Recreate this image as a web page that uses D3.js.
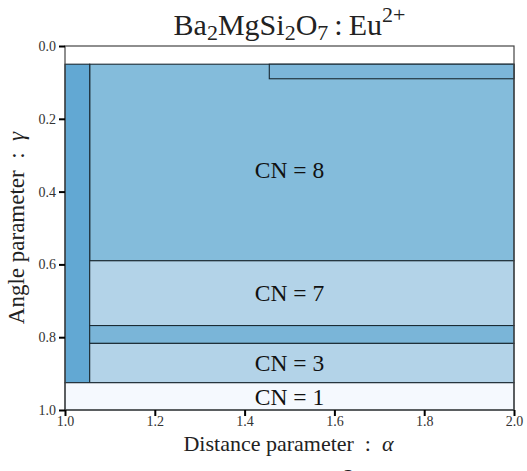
<!DOCTYPE html>
<html>
<head>
<meta charset="utf-8">
<script src="https://cdn.jsdelivr.net/npm/d3@7"></script>
<style>
  body { margin: 0; background: #fff; }
  svg, svg text { font-family: "Liberation Serif", "DejaVu Serif", serif !important; }
</style>
</head>
<body>
<div id="chart"></div>
<script>
var width = 527, height = 471;
var margin = {top: 46, right: 13, bottom: 61, left: 65};

// regions of the coordination map
var regionNames = ["CN = 8 (top strip)", "CN = 8", "left column", "CN = 7", "band", "CN = 3", "CN = 1"];
var alphaStart = [1.455, 1.055, 1.0, 1.055, 1.055, 1.055, 1.0];
var alphaEnd   = [2.0,   2.0,   1.055, 2.0,  2.0,   2.0,   2.0];
var gammaStart = [0.05,  0.05,  0.05, 0.59,  0.768, 0.817, 0.925];
var gammaEnd   = [0.09,  0.59,  0.925, 0.768, 0.817, 0.925, 1.0];
var regionFill = ["#7cb6d9", "#84bcdb", "#62a8d3", "#b3d3e8", "#7ab5d8", "#b3d3e8", "#f5f9fe"];

// labels
var labelText  = ["CN = 8", "CN = 7", "CN = 3", "CN = 1"];
var labelGamma = [0.34, 0.679, 0.871, 0.9625];

var xTicks = [1.0, 1.2, 1.4, 1.6, 1.8, 2.0];
var yTicks = [0.0, 0.2, 0.4, 0.6, 0.8, 1.0];

var serif = "Liberation Serif, DejaVu Serif, serif";

var svg = d3.select("#chart")
  .append("svg")
    .attr("width", width)
    .attr("height", height)
    .attr("font-family", serif);

var x = d3.scaleLinear().domain([1.0, 2.0]).range([margin.left, width - margin.right]);
var y = d3.scaleLinear().domain([0.0, 1.0]).range([margin.top, height - margin.bottom]);

var regions = regionNames.map(function(n, i) {
  return {name: n, x0: alphaStart[i], x1: alphaEnd[i], y0: gammaStart[i], y1: gammaEnd[i], fill: regionFill[i]};
});

// background of the axes
svg.append("rect")
  .attr("x", x(1.0)).attr("y", y(0.0))
  .attr("width", x(2.0) - x(1.0)).attr("height", y(1.0) - y(0.0))
  .attr("fill", "#fff");

// draw big regions first, the small strip on top
var order = [1, 2, 3, 4, 5, 6, 0];
svg.append("g").selectAll("rect")
  .data(order.map(function(i) { return regions[i]; }))
  .enter().append("rect")
    .attr("x", function(d) { return x(d.x0); })
    .attr("y", function(d) { return y(d.y0); })
    .attr("width", function(d) { return x(d.x1) - x(d.x0); })
    .attr("height", function(d) { return y(d.y1) - y(d.y0); })
    .attr("fill", function(d) { return d.fill; })
    .attr("stroke", "#1a2a33")
    .attr("stroke-width", 1.1);

svg.append("g").selectAll("text")
  .data(labelText)
  .enter().append("text")
    .attr("x", (x(1.0) + x(2.0)) / 2)
    .attr("y", function(d, i) { return y(labelGamma[i]); })
    .attr("dy", "0.35em")
    .attr("text-anchor", "middle")
    .attr("font-size", 23.5)
    .attr("fill", "#111")
    .text(function(d) { return d; });

// frame
svg.append("rect")
  .attr("x", x(1.0)).attr("y", y(0.0))
  .attr("width", x(2.0) - x(1.0)).attr("height", y(1.0) - y(0.0))
  .attr("fill", "none")
  .attr("stroke", "#444")
  .attr("stroke-width", 1.2);

// axes
var xAxis = svg.append("g")
  .attr("transform", "translate(0," + y(1.0) + ")")
  .call(d3.axisBottom(x).tickValues(xTicks).tickSize(6).tickPadding(0).tickFormat(d3.format(".1f")));
var yAxis = svg.append("g")
  .attr("transform", "translate(" + x(1.0) + ",0)")
  .call(d3.axisLeft(y).tickValues(yTicks).tickSize(6).tickPadding(3).tickFormat(d3.format(".1f")));

[xAxis, yAxis].forEach(function(a) {
  a.attr("font-family", serif);
  a.select(".domain").remove();
  a.selectAll(".tick line").attr("stroke", "#000").attr("stroke-width", 2);
  a.selectAll(".tick text")
    .attr("font-size", 14)
    .attr("fill", "#333");
});

// title
var title = svg.append("text")
  .attr("x", (x(1.0) + x(2.0)) / 2)
  .attr("y", 35)
  .attr("text-anchor", "middle")
  .attr("font-size", 30)
  .attr("fill", "#222");
title.append("tspan").text("Ba");
title.append("tspan").attr("font-size", 22).attr("dy", 5).text("2");
title.append("tspan").attr("dy", -5).text("MgSi");
title.append("tspan").attr("font-size", 22).attr("dy", 5).text("2");
title.append("tspan").attr("dy", -5).text("O");
title.append("tspan").attr("font-size", 22).attr("dy", 5).text("7");
title.append("tspan").attr("dy", -5).text("\u2009:\u2009Eu");
title.append("tspan").attr("font-size", 22).attr("dy", -13).text("2+");

// axis labels
svg.append("text")
  .attr("x", (x(1.0) + x(2.0)) / 2 - 1)
  .attr("y", 451)
  .attr("text-anchor", "middle")
  .attr("font-size", 22)
  .attr("fill", "#222")
  .html("Distance parameter &#160;: &#160;<tspan font-style='italic'>α</tspan>");

svg.append("text")
  .attr("transform", "translate(24," + ((y(0.0) + y(1.0)) / 2) + ") rotate(-90)")
  .attr("text-anchor", "middle")
  .attr("font-size", 23)
  .attr("fill", "#222")
  .html("Angle parameter &#160;: &#160;<tspan font-style='italic'>γ</tspan>");

// superscript of the next panel's title, cut at the bottom edge
svg.append("text")
  .attr("x", 355)
  .attr("y", 484)
  .attr("text-anchor", "middle")
  .attr("font-size", 22)
  .attr("fill", "#222")
  .text("2+");
</script>
</body>
</html>
